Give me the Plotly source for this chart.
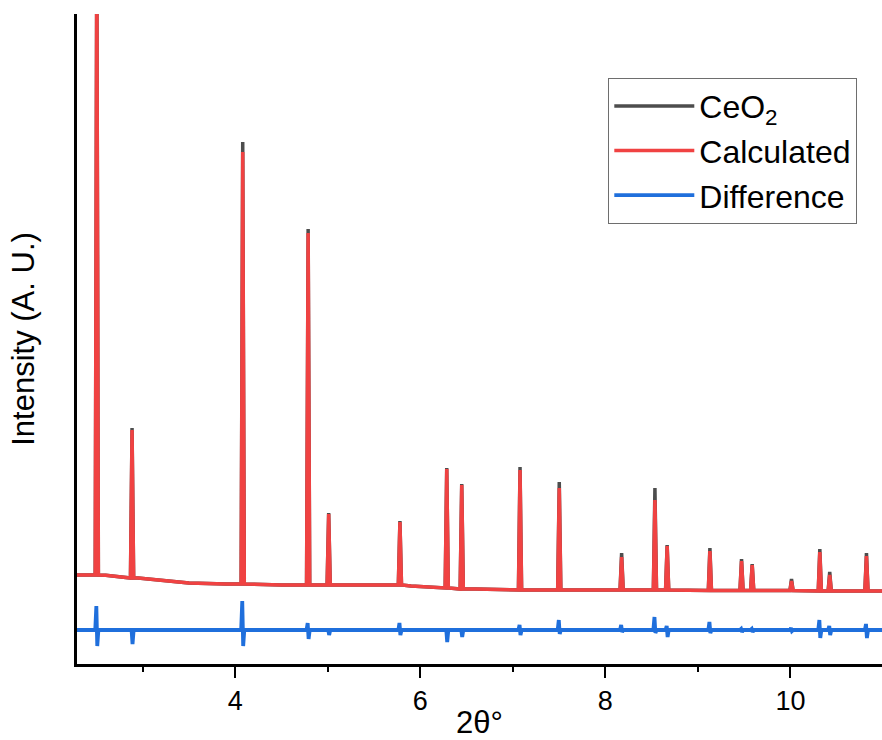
import plotly.graph_objects as go

# ---- data (intensity in arbitrary units) ----
peak_pos = [2.504, 2.885, 4.081, 4.788, 5.01, 5.78, 6.286, 6.448, 7.078, 7.502,
            8.176, 8.536, 8.668, 9.13, 9.472, 9.587, 10.012, 10.318, 10.425, 10.822]
peak_base = [89, 86, 80, 79, 79, 79, 76, 75, 74, 74,
             74, 74, 74, 73.5, 73.5, 73.5, 73.5, 73, 73, 73]
obs_top = [720, 236, 522, 435, 151, 143, 196, 180, 197, 182,
           111, 176, 119, 116, 105, 100, 85, 115, 92, 111]
calc_top = [720, 234, 512, 431, 150, 142, 195, 179, 194, 176,
            107, 164, 118, 113, 103, 99, 83, 112, 89, 108]

bg_x = [2.29, 2.45, 2.6, 2.8, 2.95, 3.2, 3.5, 3.9, 4.5, 5.5, 5.9, 6.2, 6.6, 7.2, 8.5, 9.4, 10.99]
bg_y = [89, 89, 88.7, 87, 86, 84, 81, 80, 79, 79, 78, 76, 75, 74, 74, 73.5, 73]

diff_base = 34
diff_hi = [58, 34, 63, 41, 34, 41, 34, 34, 39, 44,
           39, 47, 38, 42, 35, 35, 36, 44, 38, 40]
diff_lo = [18, 20, 18, 25, 29, 29, 22, 27, 29, 30,
           32, 31, 27, 31, 32, 32, 33, 26, 29, 26]

x_range = [2.29, 10.99]
y_range = [0, 650]

HW = 0.017  # half width of a peak foot


def pattern(tops):
    pts = list(zip(bg_x, bg_y))
    for p, b, t in zip(peak_pos, peak_base, tops):
        pts += [(p - HW, b), (p, t), (p + HW, b)]
    pts.sort(key=lambda q: q[0])
    return [q[0] for q in pts], [q[1] for q in pts]


def difference():
    pts = [(x_range[0], diff_base), (x_range[1], diff_base)]
    for p, hi, lo in zip(peak_pos, diff_hi, diff_lo):
        pts += [(p - HW, diff_base), (p - 0.005, hi), (p + 0.005, lo), (p + HW, diff_base)]
    pts.sort(key=lambda q: q[0])
    return [q[0] for q in pts], [q[1] for q in pts]


ox, oy = pattern(obs_top)
cx, cy = pattern(calc_top)
dx, dy = difference()

FONT = "Arial"

fig = go.Figure()
fig.add_trace(go.Scatter(x=ox, y=oy, mode="lines", name="CeO<sub>2</sub>",
                         line=dict(color="#4d4d4d", width=3.5)))
fig.add_trace(go.Scatter(x=cx, y=cy, mode="lines", name="Calculated",
                         line=dict(color="#f04242", width=3.5)))
fig.add_trace(go.Scatter(x=dx, y=dy, mode="lines", name="Difference",
                         line=dict(color="#1f6fdc", width=3.8)))

fig.update_layout(
    width=882, height=740,
    margin=dict(l=77, r=0, t=14, b=76),
    plot_bgcolor="white", paper_bgcolor="white",
    font=dict(family=FONT, color="black"),
    showlegend=True,
    legend=dict(x=0.66, y=0.902, xanchor="left", yanchor="top",
                bordercolor="#6e6e6e", borderwidth=1, bgcolor="white",
                font=dict(size=32, family=FONT), itemwidth=80,
                tracegroupgap=0),
    xaxis=dict(range=x_range, showgrid=False, zeroline=False,
               showline=True, linecolor="black", linewidth=2.5,
               ticks="outside", ticklen=11, tickwidth=2, tickcolor="black",
               tick0=0, dtick=2, tickfont=dict(size=27, family=FONT),
               minor=dict(ticks="outside", ticklen=5, tickwidth=2, dtick=1,
                          tick0=0, tickcolor="black"),
               title=dict(text="2θ°", font=dict(size=31, family=FONT), standoff=0)),
    yaxis=dict(range=y_range, showgrid=False, zeroline=False,
               showline=True, linecolor="black", linewidth=2.5,
               ticks="", showticklabels=False,
               title=dict(text="Intensity (A. U.)", font=dict(size=31, family=FONT),
                          standoff=31)),
)

fig.write_html("out.html")
